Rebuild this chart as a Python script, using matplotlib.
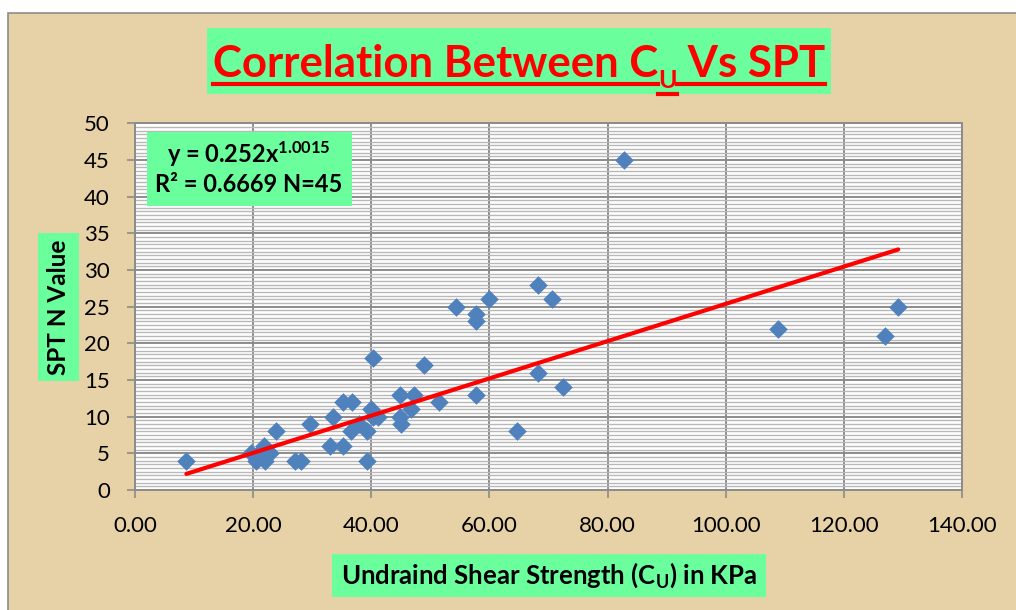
import numpy as np
import matplotlib
matplotlib.use('Agg')
import matplotlib.pyplot as plt
from matplotlib.patches import Rectangle
from matplotlib.lines import Line2D

FONT = 'Lato'
plt.rcParams['font.family'] = [FONT, 'DejaVu Sans']
plt.rcParams['mathtext.fontset'] = 'custom'
plt.rcParams['mathtext.rm'] = 'Lato:bold'
plt.rcParams['mathtext.it'] = 'Lato:bold'
plt.rcParams['mathtext.bf'] = 'Lato:bold'

# ── Data ─────────────────────────────────────────────────────────────────────
cu = [8.7, 19.6, 20.4, 21.0, 21.8, 22.0, 22.9, 23.9, 27.1, 28.1,
      29.6, 33.0, 33.6, 35.2, 35.2, 36.6, 36.8, 38.0, 39.2, 39.2,
      40.0, 40.3, 40.3, 41.2, 44.8, 44.8, 45.0, 46.7, 47.3, 48.9,
      51.4, 54.4, 57.8, 57.8, 57.8, 60.0, 64.7, 68.3, 68.3, 70.6,
      72.5, 82.7, 108.8, 126.9, 129.2]
spt = [4, 5, 4, 5, 6, 4, 5, 8, 4, 4,
       9, 6, 10, 6, 12, 8, 12, 9, 4, 8,
       11, 10, 18, 10, 13, 10, 9, 11, 13, 17,
       12, 25, 24, 23, 13, 26, 8, 28, 16, 26,
       14, 45, 22, 21, 25]

# power trendline y = a * x^b as printed on the chart
fit_a, fit_b = 0.252, 1.0015
fit_r2 = 0.6669

x_ticks = [0, 20, 40, 60, 80, 100, 120, 140]
y_ticks = [0, 5, 10, 15, 20, 25, 30, 35, 40, 45, 50]

TITLE_PARTS = ('Correlation Between C', 'U', ' Vs SPT')
X_LABEL = 'Undraind Shear Strength (C$_{\\mathrm{U}}$) in KPa'
Y_LABEL = 'SPT N Value'

W, H = 1016, 610
BG = '#E6D2A6'
GREEN = '#6BFE9D'
GRID = '#8C8C8C'
BLUE = '#4F81BD'


def fx(x):
    return x / W


def fy(y):
    return 1 - y / H


fig = plt.figure(figsize=(W / 100, H / 100), dpi=100)
fig.patch.set_facecolor('white')

# chart area (parchment)
fig.add_artist(Rectangle((fx(8), -0.02), 1.05, fy(13) + 0.02,
                         transform=fig.transFigure, facecolor=BG,
                         edgecolor=GRID, lw=1.2, zorder=0))

# ── Plot area ────────────────────────────────────────────────────────────────
ax = fig.add_axes([fx(135), fy(490), fx(962 - 135), (490 - 123.3) / H])
ax.set_facecolor('white')
ax.set_xlim(0, 140)
ax.set_ylim(0, 50)
ax.set_xticks(x_ticks)
ax.set_yticks(y_ticks)
ax.set_yticks(np.arange(0, 50.01, 0.5), minor=True)
ax.xaxis.set_major_formatter(lambda v, p: f'{v:.2f}')
ax.grid(which='major', color=GRID, lw=1.4)
ax.grid(which='minor', axis='y', color='#B8B8B8', lw=1.0)
ax.set_axisbelow(True)
ax.tick_params(which='minor', length=0)
ax.tick_params(which='major', direction='out', length=6, width=1.2,
               color=GRID, labelsize=16)
ax.tick_params(axis='y', pad=12)
ax.tick_params(axis='x', pad=13)
for s in ax.spines.values():
    s.set_color(GRID)
    s.set_linewidth(1.4)

ax.scatter(cu, spt, marker='D', s=90, color=BLUE, linewidths=0, zorder=3)
xt = np.linspace(min(cu), max(cu), 200)
ax.plot(xt, fit_a * xt ** fit_b, color='red', lw=3, zorder=4,
        solid_capstyle='round')

# ── Equation box ─────────────────────────────────────────────────────────────
fig.add_artist(Rectangle((fx(147), fy(206)), fx(352 - 147), (206 - 132) / H,
                         transform=fig.transFigure, facecolor=GREEN,
                         edgecolor='none', zorder=5))
fig.text(fx(249), fy(154), f'y = {fit_a}x$^{{{fit_b}}}$', fontsize=17,
         weight='bold', ha='center', va='center', zorder=6)
fig.text(fx(249), fy(185), f'R² = {fit_r2} N={len(cu)}', fontsize=17,
         weight='bold', ha='center', va='center', zorder=6)

# ── Axis label boxes ─────────────────────────────────────────────────────────
fig.add_artist(Rectangle((fx(38), fy(381)), fx(79 - 38), (381 - 233) / H,
                         transform=fig.transFigure, facecolor=GREEN,
                         edgecolor='none', zorder=1))
fig.text(fx(58.5), fy(307), Y_LABEL, fontsize=17.5, weight='bold',
         rotation=90, ha='center', va='center', zorder=2)

fig.add_artist(Rectangle((fx(332), fy(597)), fx(766 - 332), (597 - 554) / H,
                         transform=fig.transFigure, facecolor=GREEN,
                         edgecolor='none', zorder=1))
fig.text(fx(549), fy(575), X_LABEL, fontsize=18.5, weight='bold',
         ha='center', va='center', zorder=2)

# ── Title with underline ─────────────────────────────────────────────────────
fig.add_artist(Rectangle((fx(207), fy(94)), fx(831 - 207), (94 - 28) / H,
                         transform=fig.transFigure, facecolor=GREEN,
                         edgecolor='none', zorder=1))

renderer = fig.canvas.get_renderer()
sizes = (31.5, 18, 31.5)
base = (77, 88, 77)
under = (84, 94, 84)
parts = [fig.text(0, fy(b), s, fontsize=fs, weight='bold', color='red',
                  va='baseline', zorder=2)
         for s, fs, b in zip(TITLE_PARTS, sizes, base)]
widths = [p.get_window_extent(renderer).width for p in parts]
x0 = 519 - sum(widths) / 2
for p, w, u in zip(parts, widths, under):
    p.set_x(fx(x0))
    fig.add_artist(Line2D([fx(x0), fx(x0 + w)], [fy(u), fy(u)],
                          transform=fig.transFigure, color='red', lw=3.0,
                          zorder=2))
    x0 += w

fig.savefig('out.png', dpi=100, facecolor=fig.get_facecolor())
